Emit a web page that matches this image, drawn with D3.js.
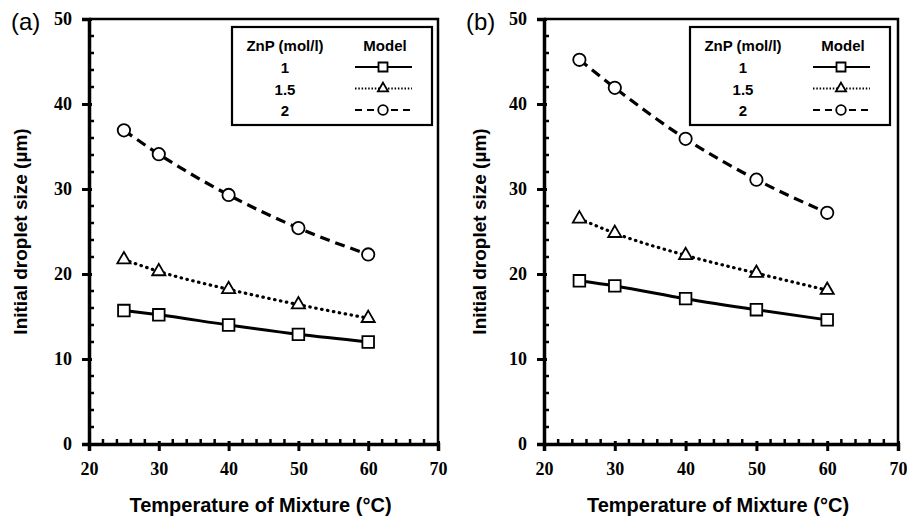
<!DOCTYPE html>
<html>
<head>
<meta charset="utf-8">
<script src="https://cdn.jsdelivr.net/npm/d3@7"></script>
<style>
  body { margin: 0; background: #fff; }
</style>
</head>
<body>
<svg id="chart" width="907" height="517"></svg>
<script>
// temperatures (°C)
const temps = [25, 30, 40, 50, 60];
const concentrations = ["1", "1.5", "2"];
const xTicks = [20, 30, 40, 50, 60, 70];
const yTicks = [0, 10, 20, 30, 40, 50];

// panel (a) initial droplet size (µm)
const a_zn1 = [15.7, 15.2, 14.0, 12.9, 12.0];
const a_zn15 = [21.7, 20.3, 18.2, 16.4, 14.8];
const a_zn2 = [36.9, 34.1, 29.3, 25.4, 22.3];

// panel (b)
const b_zn1 = [19.2, 18.6, 17.1, 15.8, 14.6];
const b_zn15 = [26.5, 24.8, 22.2, 20.1, 18.1];
const b_zn2 = [45.2, 41.9, 35.9, 31.1, 27.2];

const SANS = "'Liberation Sans', Arial, sans-serif";
const SERIF = "'Liberation Serif', 'Times New Roman', serif";

const styles = [
  { symbol: d3.symbolSquare, size: 135, dash: null, width: 3, cap: "butt" },
  { symbol: d3.symbolTriangle, size: 75, dash: "0.5,5.5", width: 3.2, cap: "round" },
  { symbol: d3.symbolCircle, size: 120, dash: "10,6", width: 3.2, cap: "butt" },
];

const svg = d3.select("#chart");

function drawPanel(cfg, series) {
  const g = svg.append("g");
  const x = d3.scaleLinear().domain([20, 70]).range([cfg.left, cfg.right]);
  const y = d3.scaleLinear().domain([0, 50]).range([cfg.bottom, cfg.top]);

  // frame top and right
  g.append("path")
    .attr("d", `M${cfg.left},${cfg.top}H${cfg.right}V${cfg.bottom}`)
    .attr("fill", "none").attr("stroke", "#000").attr("stroke-width", 2.5);

  // minor ticks (inside)
  d3.range(22, 70, 2).filter((v) => v % 10 !== 0).forEach((v) => {
    g.append("line").attr("x1", x(v)).attr("x2", x(v))
      .attr("y1", cfg.bottom).attr("y2", cfg.bottom - 5)
      .attr("stroke", "#000").attr("stroke-width", 2.5);
  });
  d3.range(2, 50, 2).filter((v) => v % 10 !== 0).forEach((v) => {
    g.append("line").attr("x1", cfg.left).attr("x2", cfg.left + 5)
      .attr("y1", y(v)).attr("y2", y(v))
      .attr("stroke", "#000").attr("stroke-width", 2.5);
  });

  // axes
  const xAxis = g.append("g").attr("transform", `translate(0,${cfg.bottom})`)
    .call(d3.axisBottom(x).tickValues(xTicks).tickSize(7).tickPadding(11));
  const yAxis = g.append("g").attr("transform", `translate(${cfg.left},0)`)
    .call(d3.axisLeft(y).tickValues(yTicks).tickSize(7).tickPadding(10));
  [xAxis, yAxis].forEach((ax) => {
    ax.select(".domain").attr("stroke-width", 3.5);
    ax.selectAll(".tick line").attr("stroke-width", 3);
    ax.selectAll(".tick text")
      .attr("fill", "#000")
      .style("font-family", SERIF)
      .style("font-weight", "bold")
      .style("font-size", "18px");
  });
  xAxis.selectAll(".tick line").attr("y1", -3).attr("y2", 7);
  yAxis.selectAll(".tick line").attr("x1", 3).attr("x2", -7);

  // axis titles
  g.append("text")
    .attr("x", (cfg.left + cfg.right) / 2 - 3).attr("y", 512)
    .attr("text-anchor", "middle")
    .style("font-family", SANS).style("font-weight", "bold").style("font-size", "20px")
    .text("Temperature of Mixture (°C)");
  g.append("text")
    .attr("transform", `translate(${cfg.titleX},${(cfg.top + cfg.bottom) / 2}) rotate(-90)`)
    .attr("text-anchor", "middle")
    .style("font-family", SANS).style("font-weight", "bold").style("font-size", "19px")
    .text("Initial droplet size (µm)");

  g.append("text")
    .attr("x", cfg.labelX).attr("y", 30)
    .style("font-family", SANS).style("font-size", "24px")
    .text(cfg.label);

  // curves and markers
  const line = d3.line().x((d) => x(d[0])).y((d) => y(d[1])).curve(d3.curveMonotoneX);
  series.forEach((vals, i) => {
    const st = styles[i];
    const pts = temps.map((t, j) => [t, vals[j]]);
    g.append("path").datum(pts).attr("d", line)
      .attr("fill", "none").attr("stroke", "#000")
      .attr("stroke-width", st.width)
      .attr("stroke-dasharray", st.dash)
      .attr("stroke-linecap", st.cap);
    g.selectAll(null).data(pts).join("path")
      .attr("transform", (d) => `translate(${x(d[0])},${y(d[1])})`)
      .attr("d", d3.symbol().type(st.symbol).size(st.size))
      .attr("fill", "#fff").attr("stroke", "#000").attr("stroke-width", 1.8);
  });

  // legend
  const lx = cfg.legendX, ly = 27, lw = 200, lh = 98;
  g.append("rect").attr("x", lx).attr("y", ly).attr("width", lw).attr("height", lh)
    .attr("fill", "#fff").attr("stroke", "#000").attr("stroke-width", 2.2);
  const legendText = (tx, ty, s) => g.append("text")
    .attr("x", tx).attr("y", ty).attr("text-anchor", "middle")
    .style("font-family", SANS).style("font-weight", "bold").style("font-size", "15px")
    .text(s);
  legendText(lx + 53, ly + 24, "ZnP (mol/l)");
  legendText(lx + 153, ly + 24, "Model");
  concentrations.forEach((c, i) => {
    const ry = ly + 40 + i * 21.5;
    const st = styles[i];
    legendText(lx + 53, ry + 6, c);
    g.append("line").attr("x1", lx + 123).attr("x2", lx + 180)
      .attr("y1", ry).attr("y2", ry)
      .attr("stroke", "#000").attr("stroke-width", 2)
      .attr("stroke-dasharray", i === 1 ? "1.5,1.8" : i === 2 ? "7,5" : null);
    g.append("path").attr("transform", `translate(${lx + 151},${ry})`)
      .attr("d", d3.symbol().type(st.symbol).size(st.size * 0.6))
      .attr("fill", "#fff").attr("stroke", "#000").attr("stroke-width", 1.8);
  });
}

drawPanel({ left: 89, right: 438, top: 19, bottom: 444, titleX: 27, labelX: 11, label: "(a)", legendX: 232 },
  [a_zn1, a_zn15, a_zn2]);
drawPanel({ left: 544, right: 898, top: 19, bottom: 444, titleX: 486, labelX: 466, label: "(b)", legendX: 690 },
  [b_zn1, b_zn15, b_zn2]);
</script>
</body>
</html>
